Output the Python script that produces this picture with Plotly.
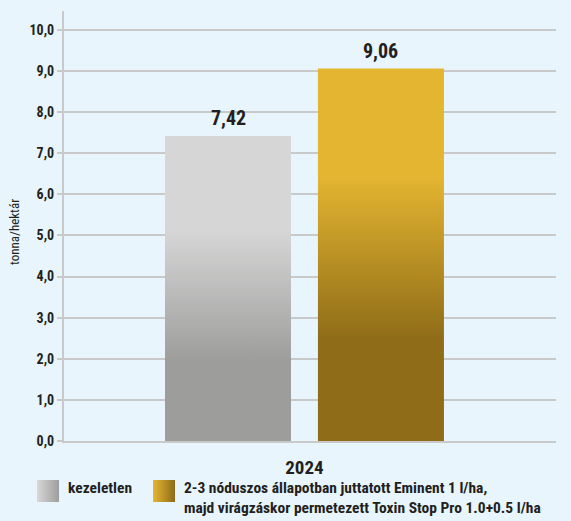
import plotly.graph_objects as go

# ---- data ----
categories = ["2024"]
series_names = [
    "kezeletlen",
    "2-3 nóduszos állapotban juttatott Eminent 1 l/ha,<br>majd virágzáskor permetezett Toxin Stop Pro 1.0+0.5 l/ha",
]
series_values = [7.42, 9.06]
y_ticks = [0, 1, 2, 3, 4, 5, 6, 7, 8, 9, 10]
y_title = "tonna/hektár"

# ---- style ----
W, H = 571, 521
BG = "#e8f5fd"
GRID = "#c9c9c9"
TXT = "#231f20"
FONT = "Roboto Condensed, Roboto, Liberation Sans, sans-serif"
gradients = [
    [[0, "#9d9d9c"], [0.26, "#9d9d9c"], [0.69, "#d6d6d6"], [1, "#d6d6d6"]],
    [[0, "#8e6c18"], [0.27, "#8e6c18"], [0.71, "#e4b531"], [1, "#e4b531"]],
]
legend_grad = [
    [[0, "#d8d8d8"], [1, "#9d9d9c"]],
    [[0, "#e6b631"], [1, "#8e6c18"]],
]
bar_offset = 0.159
bar_width = 0.262

fig = go.Figure()

n = len(series_values)
for i, (name, v) in enumerate(zip(series_names, series_values)):
    c = (i - (n - 1) / 2) * 2 * bar_offset
    x0, x1 = c - bar_width / 2, c + bar_width / 2
    fig.add_trace(go.Scatter(
        x=[x0, x1, x1, x0, x0], y=[0, 0, v, v, 0],
        mode="lines", fill="toself", line=dict(width=0),
        fillgradient=dict(type="vertical", colorscale=gradients[i], start=0, stop=v),
        showlegend=False, hoverinfo="skip", xaxis="x", yaxis="y",
    ))
    fig.add_annotation(
        x=c, y=v, xref="x", yref="y", text=f"{v:.2f}".replace(".", ","),
        showarrow=False, yanchor="middle", yshift=18,
        font=dict(family=FONT, size=20, color=TXT, weight="bold"),
    )

# manual legend (overlay pixel axes)
leg_x = [37, 153]
for i, name in enumerate(series_names):
    lx = leg_x[i]
    fig.add_trace(go.Scatter(
        x=[lx, lx + 22, lx + 22, lx, lx], y=[480, 480, 502, 502, 480],
        mode="lines", fill="toself", line=dict(width=0),
        fillgradient=dict(type="horizontal", colorscale=legend_grad[i], start=lx, stop=lx + 22),
        showlegend=False, hoverinfo="skip", xaxis="x2", yaxis="y2",
    ))
    fig.add_annotation(
        x=(lx + 29) / W, y=1 - 477 / H, xref="paper", yref="paper",
        text=name, showarrow=False, xanchor="left", yanchor="top", align="left",
        font=dict(family=FONT, size=15.5, color=TXT, weight="bold"),
    )

fig.add_annotation(
    x=15 / W, y=1 - 232 / H, xref="paper", yref="paper", text=y_title,
    showarrow=False, textangle=-90, xanchor="center", yanchor="middle",
    font=dict(family=FONT, size=13, color=TXT),
)

fig.update_layout(
    width=W, height=H, margin=dict(l=0, r=0, t=0, b=0),
    template="none", paper_bgcolor=BG, plot_bgcolor="rgba(0,0,0,0)",
    separators=", ", showlegend=False,
    xaxis=dict(
        domain=[64 / W, 556 / W], range=[-0.5, 0.523],
        tickvals=[0], ticktext=categories, ticks="", showgrid=False, zeroline=False,
        showline=True, linecolor=GRID, linewidth=2, ticklabelstandoff=8,
        tickfont=dict(family=FONT, size=19, color=TXT, weight="bold"), automargin=False,
    ),
    yaxis=dict(
        domain=[1 - 441 / H, 1 - 11 / H], range=[0, 10.46],
        tickvals=y_ticks, tickformat=".1f", ticks="outside", ticklen=5, tickwidth=2,
        tickcolor=GRID, showgrid=True, gridcolor=GRID, gridwidth=2, zeroline=False,
        showline=True, linecolor=GRID, linewidth=2,
        tickfont=dict(family=FONT, size=14, color=TXT, weight="bold"), automargin=False,
    ),
    xaxis2=dict(domain=[0, 1], range=[0, W], visible=False, anchor="y2"),
    yaxis2=dict(domain=[0, 1], range=[H, 0], visible=False, anchor="x2"),
)

fig.write_html(
    "out.html",
    config={"displayModeBar": False},
    post_script="document.body.style.margin='0';document.body.style.padding='0';",
)
